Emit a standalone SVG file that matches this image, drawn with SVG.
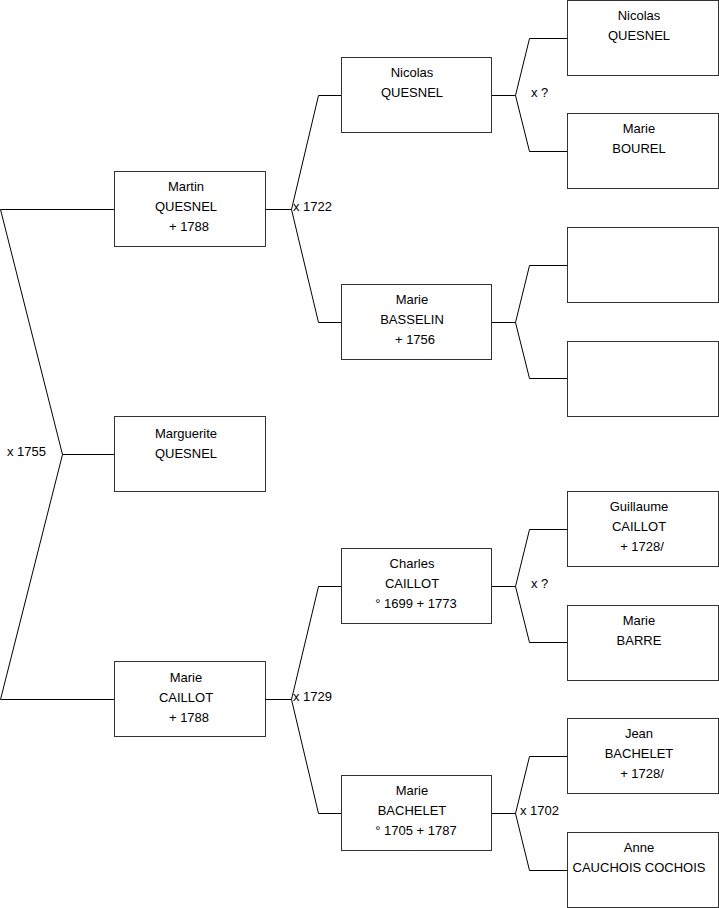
<svg xmlns="http://www.w3.org/2000/svg" width="719" height="908" viewBox="0 0 719 908">
<style>
.box{fill:#fff;stroke:#333;stroke-width:1}
.t{font-family:"Liberation Sans",Arial,sans-serif;font-size:13px;fill:#000;text-anchor:middle}
.l{font-family:"Liberation Sans",Arial,sans-serif;font-size:13px;fill:#000}
.c{fill:none;stroke:#000;stroke-width:1}
</style>
<rect width="719" height="908" fill="#fff"/>
<g id="connectors">
<path class="c" d="M114.5,209.5H0.5L62.5,454.5L0.5,699.5H114.5M62.5,454.5H114.5"/>
<path class="c" d="M265,209.5H291.5L318.5,95.5H341M291.5,209.5L318.5,322.5H341"/>
<path class="c" d="M265,699.5H291.5L318.5,586.5H341M291.5,699.5L318.5,813.5H341"/>
<path class="c" d="M492,95.5H515.5L529.5,38.5H567M515.5,95.5L529.5,151.5H567"/>
<path class="c" d="M492,322.5H515.5L529.5,265.5H567M515.5,322.5L529.5,378.5H567"/>
<path class="c" d="M492,586.5H515.5L529.5,529.5H567M515.5,586.5L529.5,642.5H567"/>
<path class="c" d="M492,813.5H515.5L529.5,756.5H567M515.5,813.5L529.5,870.5H567"/>
<text class="l" x="7" y="456">x 1755</text>
<text class="l" x="293" y="211">x 1722</text>
<text class="l" x="293" y="701">x 1729</text>
<text class="l" x="531" y="97">x ?</text>
<text class="l" x="531" y="588">x ?</text>
<text class="l" x="520" y="815">x 1702</text>
</g>
<g id="martin"><rect class="box" x="114.5" y="171.5" width="151" height="75"/>
<text class="t" x="186" y="191">Martin</text><text class="t" x="186" y="211">QUESNEL</text><text class="t" x="189" y="231">+ 1788</text></g>
<g id="marguerite"><rect class="box" x="114.5" y="416.5" width="151" height="75"/>
<text class="t" x="186" y="438">Marguerite</text><text class="t" x="186" y="458">QUESNEL</text></g>
<g id="marie-caillot"><rect class="box" x="114.5" y="661.5" width="151" height="75"/>
<text class="t" x="186" y="682">Marie</text><text class="t" x="186" y="702">CAILLOT</text><text class="t" x="189" y="722">+ 1788</text></g>
<g id="nicolas"><rect class="box" x="341.5" y="57.5" width="150" height="75"/>
<text class="t" x="412" y="77">Nicolas</text><text class="t" x="412" y="97">QUESNEL</text></g>
<g id="marie-basselin"><rect class="box" x="341.5" y="284.5" width="150" height="75"/>
<text class="t" x="412" y="304">Marie</text><text class="t" x="412" y="324">BASSELIN</text><text class="t" x="415" y="344">+ 1756</text></g>
<g id="charles"><rect class="box" x="341.5" y="548.5" width="150" height="75"/>
<text class="t" x="412" y="568">Charles</text><text class="t" x="412" y="588">CAILLOT</text><text class="t" x="416" y="608">° 1699 + 1773</text></g>
<g id="marie-bachelet"><rect class="box" x="341.5" y="775.5" width="150" height="75"/>
<text class="t" x="412" y="795">Marie</text><text class="t" x="412" y="815">BACHELET</text><text class="t" x="416" y="835">° 1705 + 1787</text></g>
<g id="nicolas-sr"><rect class="box" x="567.5" y="0.5" width="151" height="75"/>
<text class="t" x="639" y="20">Nicolas</text><text class="t" x="639" y="40">QUESNEL</text></g>
<g id="marie-bourel"><rect class="box" x="567.5" y="113.5" width="151" height="75"/>
<text class="t" x="639" y="133">Marie</text><text class="t" x="639" y="153">BOUREL</text></g>
<g id="empty1"><rect class="box" x="567.5" y="227.5" width="151" height="75"/></g>
<g id="empty2"><rect class="box" x="567.5" y="341.5" width="151" height="75"/></g>
<g id="guillaume"><rect class="box" x="567.5" y="491.5" width="151" height="75"/>
<text class="t" x="639" y="511">Guillaume</text><text class="t" x="639" y="531">CAILLOT</text><text class="t" x="642" y="551">+ 1728/</text></g>
<g id="marie-barre"><rect class="box" x="567.5" y="605.5" width="151" height="75"/>
<text class="t" x="639" y="625">Marie</text><text class="t" x="639" y="645">BARRE</text></g>
<g id="jean"><rect class="box" x="567.5" y="718.5" width="151" height="75"/>
<text class="t" x="639" y="738">Jean</text><text class="t" x="639" y="758">BACHELET</text><text class="t" x="642" y="778">+ 1728/</text></g>
<g id="anne"><rect class="box" x="567.5" y="832.5" width="151" height="75"/>
<text class="t" x="639" y="852">Anne</text><text class="t" x="639" y="872">CAUCHOIS COCHOIS</text></g>
</svg>
